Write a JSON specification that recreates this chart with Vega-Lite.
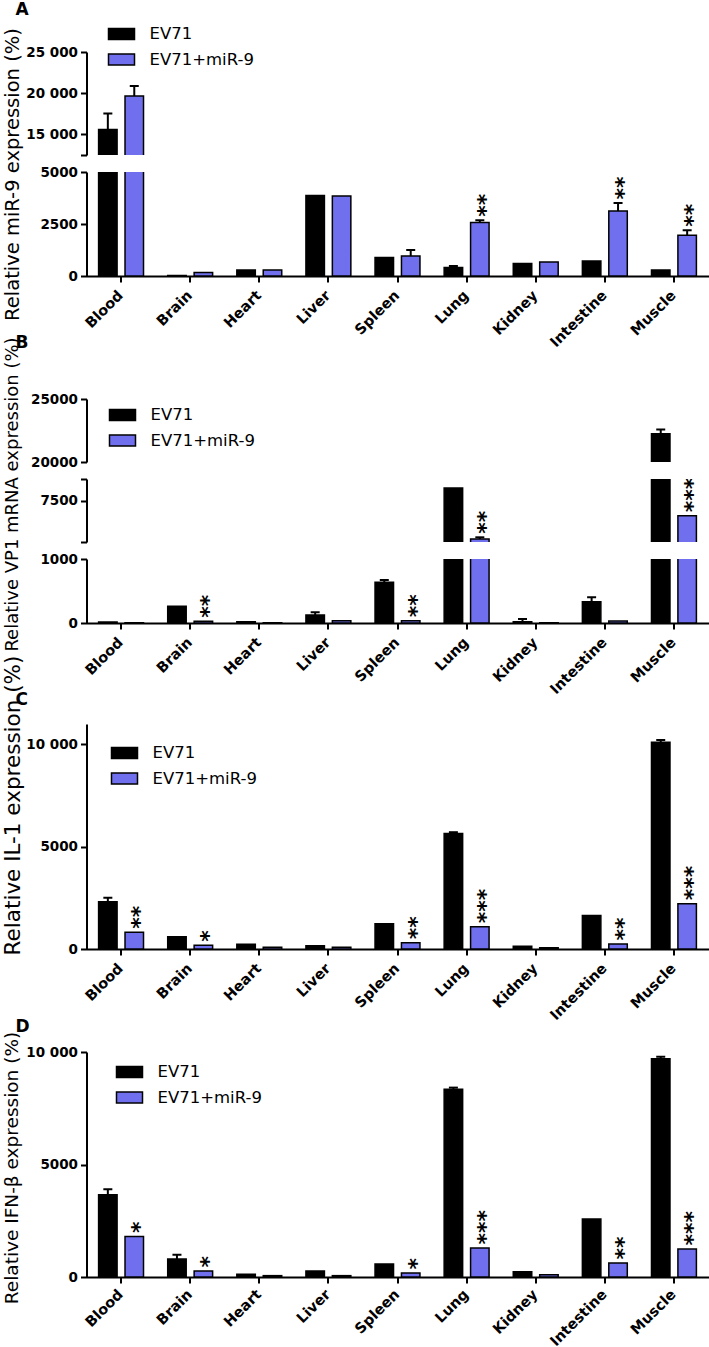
{
"$schema": "https://vega.github.io/schema/vega-lite/v6.json",
"padding": {"left": 1.5, "top": 1, "right": 0, "bottom": 0},
"bounds": "flush",
"spacing": 17,
"resolve": {"scale": {"color": "independent", "y": "independent", "x": "independent"}, "legend": {"color": "independent"}},
"datasets": {
"A": [
{"tissue":"Blood","group":"EV71","mean":15600,"upper":17550,"sig":""},
{"tissue":"Blood","group":"EV71+miR-9","mean":19650,"upper":20870,"sig":""},
{"tissue":"Brain","group":"EV71","mean":30,"upper":30,"sig":""},
{"tissue":"Brain","group":"EV71+miR-9","mean":165,"upper":165,"sig":""},
{"tissue":"Heart","group":"EV71","mean":290,"upper":290,"sig":""},
{"tissue":"Heart","group":"EV71+miR-9","mean":290,"upper":290,"sig":""},
{"tissue":"Liver","group":"EV71","mean":3875,"upper":3875,"sig":""},
{"tissue":"Liver","group":"EV71+miR-9","mean":3845,"upper":3845,"sig":""},
{"tissue":"Spleen","group":"EV71","mean":887,"upper":887,"sig":""},
{"tissue":"Spleen","group":"EV71+miR-9","mean":964,"upper":1253,"sig":""},
{"tissue":"Lung","group":"EV71","mean":405,"upper":482,"sig":""},
{"tissue":"Lung","group":"EV71+miR-9","mean":2574,"upper":2685,"sig":"**"},
{"tissue":"Kidney","group":"EV71","mean":598,"upper":598,"sig":""},
{"tissue":"Kidney","group":"EV71+miR-9","mean":675,"upper":675,"sig":""},
{"tissue":"Intestine","group":"EV71","mean":723,"upper":723,"sig":""},
{"tissue":"Intestine","group":"EV71+miR-9","mean":3120,"upper":3505,"sig":"**"},
{"tissue":"Muscle","group":"EV71","mean":290,"upper":290,"sig":""},
{"tissue":"Muscle","group":"EV71+miR-9","mean":1960,"upper":2200,"sig":"**"}
],
"B": [
{"tissue":"Blood","group":"EV71","mean":15,"upper":15,"sig":""},
{"tissue":"Blood","group":"EV71+miR-9","mean":3,"upper":3,"sig":""},
{"tissue":"Brain","group":"EV71","mean":260,"upper":260,"sig":""},
{"tissue":"Brain","group":"EV71+miR-9","mean":27,"upper":27,"sig":"**"},
{"tissue":"Heart","group":"EV71","mean":20,"upper":20,"sig":""},
{"tissue":"Heart","group":"EV71+miR-9","mean":2,"upper":2,"sig":""},
{"tissue":"Liver","group":"EV71","mean":125,"upper":167,"sig":""},
{"tissue":"Liver","group":"EV71+miR-9","mean":36,"upper":36,"sig":""},
{"tissue":"Spleen","group":"EV71","mean":635,"upper":672,"sig":""},
{"tissue":"Spleen","group":"EV71+miR-9","mean":36,"upper":36,"sig":"**"},
{"tissue":"Lung","group":"EV71","mean":8257,"upper":8257,"sig":""},
{"tissue":"Lung","group":"EV71+miR-9","mean":5180,"upper":5283,"sig":"**"},
{"tissue":"Kidney","group":"EV71","mean":20,"upper":62,"sig":""},
{"tissue":"Kidney","group":"EV71+miR-9","mean":2,"upper":2,"sig":""},
{"tissue":"Intestine","group":"EV71","mean":333,"upper":401,"sig":""},
{"tissue":"Intestine","group":"EV71+miR-9","mean":31,"upper":31,"sig":""},
{"tissue":"Muscle","group":"EV71","mean":22234,"upper":22580,"sig":""},
{"tissue":"Muscle","group":"EV71+miR-9","mean":6586,"upper":6586,"sig":"***"}
],
"C": [
{"tissue":"Blood","group":"EV71","mean":2314,"upper":2510,"sig":""},
{"tissue":"Blood","group":"EV71+miR-9","mean":824,"upper":824,"sig":"**"},
{"tissue":"Brain","group":"EV71","mean":598,"upper":598,"sig":""},
{"tissue":"Brain","group":"EV71+miR-9","mean":186,"upper":186,"sig":"*"},
{"tissue":"Heart","group":"EV71","mean":235,"upper":235,"sig":""},
{"tissue":"Heart","group":"EV71+miR-9","mean":88,"upper":88,"sig":""},
{"tissue":"Liver","group":"EV71","mean":160,"upper":160,"sig":""},
{"tissue":"Liver","group":"EV71+miR-9","mean":88,"upper":88,"sig":""},
{"tissue":"Spleen","group":"EV71","mean":1235,"upper":1235,"sig":""},
{"tissue":"Spleen","group":"EV71+miR-9","mean":304,"upper":304,"sig":"**"},
{"tissue":"Lung","group":"EV71","mean":5647,"upper":5710,"sig":""},
{"tissue":"Lung","group":"EV71+miR-9","mean":1088,"upper":1088,"sig":"***"},
{"tissue":"Kidney","group":"EV71","mean":135,"upper":135,"sig":""},
{"tissue":"Kidney","group":"EV71+miR-9","mean":65,"upper":65,"sig":""},
{"tissue":"Intestine","group":"EV71","mean":1642,"upper":1642,"sig":""},
{"tissue":"Intestine","group":"EV71+miR-9","mean":240,"upper":240,"sig":"**"},
{"tissue":"Muscle","group":"EV71","mean":10108,"upper":10220,"sig":""},
{"tissue":"Muscle","group":"EV71+miR-9","mean":2215,"upper":2215,"sig":"***"}
],
"D": [
{"tissue":"Blood","group":"EV71","mean":3652,"upper":3905,"sig":""},
{"tissue":"Blood","group":"EV71+miR-9","mean":1805,"upper":1805,"sig":"*"},
{"tissue":"Brain","group":"EV71","mean":799,"upper":990,"sig":""},
{"tissue":"Brain","group":"EV71+miR-9","mean":266,"upper":266,"sig":"*"},
{"tissue":"Heart","group":"EV71","mean":118,"upper":118,"sig":""},
{"tissue":"Heart","group":"EV71+miR-9","mean":60,"upper":60,"sig":""},
{"tissue":"Liver","group":"EV71","mean":266,"upper":266,"sig":""},
{"tissue":"Liver","group":"EV71+miR-9","mean":60,"upper":60,"sig":""},
{"tissue":"Spleen","group":"EV71","mean":577,"upper":577,"sig":""},
{"tissue":"Spleen","group":"EV71+miR-9","mean":177,"upper":177,"sig":"*"},
{"tissue":"Lung","group":"EV71","mean":8342,"upper":8417,"sig":""},
{"tissue":"Lung","group":"EV71+miR-9","mean":1287,"upper":1287,"sig":"***"},
{"tissue":"Kidney","group":"EV71","mean":237,"upper":237,"sig":""},
{"tissue":"Kidney","group":"EV71+miR-9","mean":100,"upper":100,"sig":""},
{"tissue":"Intestine","group":"EV71","mean":2573,"upper":2573,"sig":""},
{"tissue":"Intestine","group":"EV71+miR-9","mean":621,"upper":621,"sig":"**"},
{"tissue":"Muscle","group":"EV71","mean":9704,"upper":9793,"sig":""},
{"tissue":"Muscle","group":"EV71+miR-9","mean":1242,"upper":1242,"sig":"***"}
]
},
"vconcat": [
{
"width": 622, "height": 103,
"title": {"text": "A", "anchor": "start", "frame": "group", "dx": -71, "offset": 13, "fontSize": 17, "font": "DejaVu Sans", "fontWeight": "bold", "baseline": "alphabetic", "color": "black"},
"data": {"name": "A"},
"encoding": {
"x": {"field":"tissue","type":"nominal","title":null,"scale":{"domain":["Blood","Brain","Heart","Liver","Spleen","Lung","Kidney","Intestine","Muscle"],"paddingInner":0.35,"paddingOuter":0.175},"axis":null},
"xOffset": {"field":"group","type":"nominal","scale":{"domain":["EV71","EV71+miR-9"],"paddingInner":0.3,"paddingOuter":0}}
},
"layer": [
{"mark":{"type":"bar","clip":true,"stroke":"black","strokeWidth":1.5},"encoding":{"y":{"field":"mean","type":"quantitative","scale":{"domain":[12500,25000],"nice":false,"zero":false},"axis":{"title":null,"values":[12500,15000,20000,25000],"labelExpr":"datum.value == 12500 ? '' : replace(format(datum.value, ','), ',', ' ')"}},"color":{"field":"group","type":"nominal","scale":{"domain":["EV71","EV71+miR-9"],"range":["#000000","#7070ee"]},"legend":null}}},
{"transform":[{"filter":"datum.upper > datum.mean"}],"mark":{"type":"rule","clip":true,"color":"black","strokeWidth":2},"encoding":{"y":{"field":"mean","type":"quantitative","scale":{"domain":[12500,25000],"nice":false,"zero":false},"axis":{"title":null,"values":[12500,15000,20000,25000],"labelExpr":"datum.value == 12500 ? '' : replace(format(datum.value, ','), ',', ' ')"}},"y2":{"field":"upper"}}},
{"transform":[{"filter":"datum.upper > datum.mean"}],"mark":{"type":"tick","clip":true,"color":"black","opacity":1,"size":9,"thickness":2},"encoding":{"y":{"field":"upper","type":"quantitative","scale":{"domain":[12500,25000],"nice":false,"zero":false},"axis":{"title":null,"values":[12500,15000,20000,25000],"labelExpr":"datum.value == 12500 ? '' : replace(format(datum.value, ','), ',', ' ')"}}}}
]
},
{
"width": 622, "height": 104,
"data": {"name": "A"},
"encoding": {
"x": {"field":"tissue","type":"nominal","title":null,"scale":{"domain":["Blood","Brain","Heart","Liver","Spleen","Lung","Kidney","Intestine","Muscle"],"paddingInner":0.35,"paddingOuter":0.175},"axis":{"title":null,"labelAngle":-45,"labelAlign":"right","labelBaseline":"middle","labelFontSize":14.5,"labelPadding":11}},
"xOffset": {"field":"group","type":"nominal","scale":{"domain":["EV71","EV71+miR-9"],"paddingInner":0.3,"paddingOuter":0}}
},
"layer": [
{"mark":{"type":"bar","clip":true,"stroke":"black","strokeWidth":1.5},"encoding":{"y":{"field":"mean","type":"quantitative","scale":{"domain":[0,5000],"nice":false,"zero":false},"axis":{"values":[0,2500,5000],"labelExpr":"format(datum.value, 'd')","title":"Relative miR-9 expression (%)","titleFontSize":19.5,"titleX":-68,"titleY":2,"titleAlign":"center","titleAngle":-90,"titleBaseline":"alphabetic"}},"color":{"field":"group","type":"nominal","scale":{"domain":["EV71","EV71+miR-9"],"range":["#000000","#7070ee"]},"legend":{"title":null,"orient":"none","legendX":21,"legendY":-152}}}},
{"transform":[{"filter":"datum.upper > datum.mean"}],"mark":{"type":"rule","clip":true,"color":"black","strokeWidth":2},"encoding":{"y":{"field":"mean","type":"quantitative","scale":{"domain":[0,5000],"nice":false,"zero":false},"axis":{"values":[0,2500,5000],"labelExpr":"format(datum.value, 'd')","title":"Relative miR-9 expression (%)","titleFontSize":19.5,"titleX":-68,"titleY":2,"titleAlign":"center","titleAngle":-90,"titleBaseline":"alphabetic"}},"y2":{"field":"upper"}}},
{"transform":[{"filter":"datum.upper > datum.mean"}],"mark":{"type":"tick","clip":true,"color":"black","opacity":1,"size":9,"thickness":2},"encoding":{"y":{"field":"upper","type":"quantitative","scale":{"domain":[0,5000],"nice":false,"zero":false},"axis":{"values":[0,2500,5000],"labelExpr":"format(datum.value, 'd')","title":"Relative miR-9 expression (%)","titleFontSize":19.5,"titleX":-68,"titleY":2,"titleAlign":"center","titleAngle":-90,"titleBaseline":"alphabetic"}}}},
{"transform":[{"filter":"datum.sig != ''"}],"mark":{"type":"text","clip":true,"angle":270,"align":"left","baseline":"middle","dx":3.5,"dy":6,"fontSize":22,"font":"DejaVu Sans","fontWeight":"bold","color":"black"},"encoding":{"text":{"field":"sig","type":"nominal"},"y":{"field":"upper","type":"quantitative","scale":{"domain":[0,5000],"nice":false,"zero":false},"axis":{"values":[0,2500,5000],"labelExpr":"format(datum.value, 'd')","title":"Relative miR-9 expression (%)","titleFontSize":19.5,"titleX":-68,"titleY":2,"titleAlign":"center","titleAngle":-90,"titleBaseline":"alphabetic"}}}}
]
},
{
"width": 622, "height": 169,
"title": {"text": "B", "anchor": "start", "frame": "group", "dx": -71, "offset": -72, "fontSize": 17, "font": "DejaVu Sans", "fontWeight": "bold", "baseline": "alphabetic", "color": "black"},
"data": {"name": "B"},
"encoding": {
"x": {"field":"tissue","type":"nominal","title":null,"scale":{"domain":["Blood","Brain","Heart","Liver","Spleen","Lung","Kidney","Intestine","Muscle"],"paddingInner":0.35,"paddingOuter":0.175},"axis":null},
"xOffset": {"field":"group","type":"nominal","scale":{"domain":["EV71","EV71+miR-9"],"paddingInner":0.3,"paddingOuter":0}}
},
"layer": [
{"mark":{"type":"bar","clip":true,"stroke":"black","strokeWidth":1.5},"encoding":{"y":{"field":"mean","type":"quantitative","scale":{"domain":[20000,25000],"range":[169,106],"nice":false,"zero":false},"axis":{"title":null,"values":[20000,25000],"labelExpr":"format(datum.value, 'd')"}},"color":{"field":"group","type":"nominal","scale":{"domain":["EV71","EV71+miR-9"],"range":["#000000","#7070ee"]},"legend":{"title":null,"orient":"none","legendX":22,"legendY":108}}}},
{"transform":[{"filter":"datum.upper > datum.mean"}],"mark":{"type":"rule","clip":true,"color":"black","strokeWidth":2},"encoding":{"y":{"field":"mean","type":"quantitative","scale":{"domain":[20000,25000],"range":[169,106],"nice":false,"zero":false},"axis":{"title":null,"values":[20000,25000],"labelExpr":"format(datum.value, 'd')"}},"y2":{"field":"upper"}}},
{"transform":[{"filter":"datum.upper > datum.mean"}],"mark":{"type":"tick","clip":true,"color":"black","opacity":1,"size":9,"thickness":2},"encoding":{"y":{"field":"upper","type":"quantitative","scale":{"domain":[20000,25000],"range":[169,106],"nice":false,"zero":false},"axis":{"title":null,"values":[20000,25000],"labelExpr":"format(datum.value, 'd')"}}}}
]
},
{
"width": 622, "height": 63,
"data": {"name": "B"},
"encoding": {
"x": {"field":"tissue","type":"nominal","title":null,"scale":{"domain":["Blood","Brain","Heart","Liver","Spleen","Lung","Kidney","Intestine","Muscle"],"paddingInner":0.35,"paddingOuter":0.175},"axis":null},
"xOffset": {"field":"group","type":"nominal","scale":{"domain":["EV71","EV71+miR-9"],"paddingInner":0.3,"paddingOuter":0}}
},
"layer": [
{"mark":{"type":"bar","clip":true,"stroke":"black","strokeWidth":1.5},"encoding":{"y":{"field":"mean","type":"quantitative","scale":{"domain":[5000,8800],"nice":false,"zero":false},"axis":{"values":[5000,7500,8800],"labelExpr":"datum.value == 7500 ? '7500' : ''","title":"Relative VP1 mRNA expression (%)","titleFontSize":18,"titleX":-69,"titleY":15,"titleAlign":"center","titleAngle":-90,"titleBaseline":"alphabetic"}},"color":{"field":"group","type":"nominal","scale":{"domain":["EV71","EV71+miR-9"],"range":["#000000","#7070ee"]},"legend":null}}},
{"transform":[{"filter":"datum.upper > datum.mean"}],"mark":{"type":"rule","clip":true,"color":"black","strokeWidth":2},"encoding":{"y":{"field":"mean","type":"quantitative","scale":{"domain":[5000,8800],"nice":false,"zero":false},"axis":{"values":[5000,7500,8800],"labelExpr":"datum.value == 7500 ? '7500' : ''","title":"Relative VP1 mRNA expression (%)","titleFontSize":18,"titleX":-69,"titleY":15,"titleAlign":"center","titleAngle":-90,"titleBaseline":"alphabetic"}},"y2":{"field":"upper"}}},
{"transform":[{"filter":"datum.upper > datum.mean"}],"mark":{"type":"tick","clip":true,"color":"black","opacity":1,"size":9,"thickness":2},"encoding":{"y":{"field":"upper","type":"quantitative","scale":{"domain":[5000,8800],"nice":false,"zero":false},"axis":{"values":[5000,7500,8800],"labelExpr":"datum.value == 7500 ? '7500' : ''","title":"Relative VP1 mRNA expression (%)","titleFontSize":18,"titleX":-69,"titleY":15,"titleAlign":"center","titleAngle":-90,"titleBaseline":"alphabetic"}}}},
{"transform":[{"filter":"datum.sig != ''"}],"mark":{"type":"text","clip":true,"angle":270,"align":"left","baseline":"middle","dx":3.5,"dy":6,"fontSize":22,"font":"DejaVu Sans","fontWeight":"bold","color":"black"},"encoding":{"text":{"field":"sig","type":"nominal"},"y":{"field":"upper","type":"quantitative","scale":{"domain":[5000,8800],"nice":false,"zero":false},"axis":{"values":[5000,7500,8800],"labelExpr":"datum.value == 7500 ? '7500' : ''","title":"Relative VP1 mRNA expression (%)","titleFontSize":18,"titleX":-69,"titleY":15,"titleAlign":"center","titleAngle":-90,"titleBaseline":"alphabetic"}}}}
]
},
{
"width": 622, "height": 64,
"data": {"name": "B"},
"encoding": {
"x": {"field":"tissue","type":"nominal","title":null,"scale":{"domain":["Blood","Brain","Heart","Liver","Spleen","Lung","Kidney","Intestine","Muscle"],"paddingInner":0.35,"paddingOuter":0.175},"axis":{"title":null,"labelAngle":-45,"labelAlign":"right","labelBaseline":"middle","labelFontSize":14.5,"labelPadding":11}},
"xOffset": {"field":"group","type":"nominal","scale":{"domain":["EV71","EV71+miR-9"],"paddingInner":0.3,"paddingOuter":0}}
},
"layer": [
{"mark":{"type":"bar","clip":true,"stroke":"black","strokeWidth":1.5},"encoding":{"y":{"field":"mean","type":"quantitative","scale":{"domain":[0,1000],"nice":false,"zero":false},"axis":{"title":null,"values":[0,1000],"labelExpr":"format(datum.value, 'd')"}},"color":{"field":"group","type":"nominal","scale":{"domain":["EV71","EV71+miR-9"],"range":["#000000","#7070ee"]},"legend":null}}},
{"transform":[{"filter":"datum.upper > datum.mean"}],"mark":{"type":"rule","clip":true,"color":"black","strokeWidth":2},"encoding":{"y":{"field":"mean","type":"quantitative","scale":{"domain":[0,1000],"nice":false,"zero":false},"axis":{"title":null,"values":[0,1000],"labelExpr":"format(datum.value, 'd')"}},"y2":{"field":"upper"}}},
{"transform":[{"filter":"datum.upper > datum.mean"}],"mark":{"type":"tick","clip":true,"color":"black","opacity":1,"size":9,"thickness":2},"encoding":{"y":{"field":"upper","type":"quantitative","scale":{"domain":[0,1000],"nice":false,"zero":false},"axis":{"title":null,"values":[0,1000],"labelExpr":"format(datum.value, 'd')"}}}},
{"transform":[{"filter":"datum.sig != ''"}],"mark":{"type":"text","clip":true,"angle":270,"align":"left","baseline":"middle","dx":3.5,"dy":6,"fontSize":22,"font":"DejaVu Sans","fontWeight":"bold","color":"black"},"encoding":{"text":{"field":"sig","type":"nominal"},"y":{"field":"upper","type":"quantitative","scale":{"domain":[0,1000],"nice":false,"zero":false},"axis":{"title":null,"values":[0,1000],"labelExpr":"format(datum.value, 'd')"}}}}
]
},
{
"width": 622, "height": 309,
"title": {"text": "C", "anchor": "start", "frame": "group", "dx": -71, "offset": -82, "fontSize": 17, "font": "DejaVu Sans", "fontWeight": "bold", "baseline": "alphabetic", "color": "black"},
"data": {"name": "C"},
"encoding": {
"x": {"field":"tissue","type":"nominal","title":null,"scale":{"domain":["Blood","Brain","Heart","Liver","Spleen","Lung","Kidney","Intestine","Muscle"],"paddingInner":0.35,"paddingOuter":0.175},"axis":{"title":null,"labelAngle":-45,"labelAlign":"right","labelBaseline":"middle","labelFontSize":14.5,"labelPadding":11}},
"xOffset": {"field":"group","type":"nominal","scale":{"domain":["EV71","EV71+miR-9"],"paddingInner":0.3,"paddingOuter":0}}
},
"layer": [
{"mark":{"type":"bar","clip":true,"stroke":"black","strokeWidth":1.5},"encoding":{"y":{"field":"mean","type":"quantitative","scale":{"domain":[0,11000],"range":[309,84],"nice":false,"zero":false},"axis":{"values":[0,5000,10000],"labelExpr":"datum.value >= 10000 ? replace(format(datum.value, ','), ',', ' ') : format(datum.value, 'd')","title":"Relative IL-1 expression (%)","titleFontSize":21.5,"titleX":-67.5,"titleY":165,"titleAlign":"center","titleAngle":-90,"titleBaseline":"alphabetic"}},"color":{"field":"group","type":"nominal","scale":{"domain":["EV71","EV71+miR-9"],"range":["#000000","#7070ee"]},"legend":{"title":null,"orient":"none","legendX":24,"legendY":99}}}},
{"transform":[{"filter":"datum.upper > datum.mean"}],"mark":{"type":"rule","clip":true,"color":"black","strokeWidth":2},"encoding":{"y":{"field":"mean","type":"quantitative","scale":{"domain":[0,11000],"range":[309,84],"nice":false,"zero":false},"axis":{"values":[0,5000,10000],"labelExpr":"datum.value >= 10000 ? replace(format(datum.value, ','), ',', ' ') : format(datum.value, 'd')","title":"Relative IL-1 expression (%)","titleFontSize":21.5,"titleX":-67.5,"titleY":165,"titleAlign":"center","titleAngle":-90,"titleBaseline":"alphabetic"}},"y2":{"field":"upper"}}},
{"transform":[{"filter":"datum.upper > datum.mean"}],"mark":{"type":"tick","clip":true,"color":"black","opacity":1,"size":9,"thickness":2},"encoding":{"y":{"field":"upper","type":"quantitative","scale":{"domain":[0,11000],"range":[309,84],"nice":false,"zero":false},"axis":{"values":[0,5000,10000],"labelExpr":"datum.value >= 10000 ? replace(format(datum.value, ','), ',', ' ') : format(datum.value, 'd')","title":"Relative IL-1 expression (%)","titleFontSize":21.5,"titleX":-67.5,"titleY":165,"titleAlign":"center","titleAngle":-90,"titleBaseline":"alphabetic"}}}},
{"transform":[{"filter":"datum.sig != ''"}],"mark":{"type":"text","clip":true,"angle":270,"align":"left","baseline":"middle","dx":3.5,"dy":6,"fontSize":22,"font":"DejaVu Sans","fontWeight":"bold","color":"black"},"encoding":{"text":{"field":"sig","type":"nominal"},"y":{"field":"upper","type":"quantitative","scale":{"domain":[0,11000],"range":[309,84],"nice":false,"zero":false},"axis":{"values":[0,5000,10000],"labelExpr":"datum.value >= 10000 ? replace(format(datum.value, ','), ',', ' ') : format(datum.value, 'd')","title":"Relative IL-1 expression (%)","titleFontSize":21.5,"titleX":-67.5,"titleY":165,"titleAlign":"center","titleAngle":-90,"titleBaseline":"alphabetic"}}}}
]
},
{
"width": 622, "height": 311,
"title": {"text": "D", "anchor": "start", "frame": "group", "dx": -71, "offset": -83, "fontSize": 17, "font": "DejaVu Sans", "fontWeight": "bold", "baseline": "alphabetic", "color": "black"},
"data": {"name": "D"},
"encoding": {
"x": {"field":"tissue","type":"nominal","title":null,"scale":{"domain":["Blood","Brain","Heart","Liver","Spleen","Lung","Kidney","Intestine","Muscle"],"paddingInner":0.35,"paddingOuter":0.175},"axis":{"title":null,"labelAngle":-45,"labelAlign":"right","labelBaseline":"middle","labelFontSize":14.5,"labelPadding":9}},
"xOffset": {"field":"group","type":"nominal","scale":{"domain":["EV71","EV71+miR-9"],"paddingInner":0.3,"paddingOuter":0}}
},
"layer": [
{"mark":{"type":"bar","clip":true,"stroke":"black","strokeWidth":1.5},"encoding":{"y":{"field":"mean","type":"quantitative","scale":{"domain":[0,10000],"range":[311,86],"nice":false,"zero":false},"axis":{"values":[0,5000,10000],"labelExpr":"datum.value >= 10000 ? replace(format(datum.value, ','), ',', ' ') : format(datum.value, 'd')","title":"Relative IFN-β expression (%)","titleFontSize":18.5,"titleX":-69,"titleY":201.5,"titleAlign":"center","titleAngle":-90,"titleBaseline":"alphabetic"}},"color":{"field":"group","type":"nominal","scale":{"domain":["EV71","EV71+miR-9"],"range":["#000000","#7070ee"]},"legend":{"title":null,"orient":"none","legendX":29,"legendY":92}}}},
{"transform":[{"filter":"datum.upper > datum.mean"}],"mark":{"type":"rule","clip":true,"color":"black","strokeWidth":2},"encoding":{"y":{"field":"mean","type":"quantitative","scale":{"domain":[0,10000],"range":[311,86],"nice":false,"zero":false},"axis":{"values":[0,5000,10000],"labelExpr":"datum.value >= 10000 ? replace(format(datum.value, ','), ',', ' ') : format(datum.value, 'd')","title":"Relative IFN-β expression (%)","titleFontSize":18.5,"titleX":-69,"titleY":201.5,"titleAlign":"center","titleAngle":-90,"titleBaseline":"alphabetic"}},"y2":{"field":"upper"}}},
{"transform":[{"filter":"datum.upper > datum.mean"}],"mark":{"type":"tick","clip":true,"color":"black","opacity":1,"size":9,"thickness":2},"encoding":{"y":{"field":"upper","type":"quantitative","scale":{"domain":[0,10000],"range":[311,86],"nice":false,"zero":false},"axis":{"values":[0,5000,10000],"labelExpr":"datum.value >= 10000 ? replace(format(datum.value, ','), ',', ' ') : format(datum.value, 'd')","title":"Relative IFN-β expression (%)","titleFontSize":18.5,"titleX":-69,"titleY":201.5,"titleAlign":"center","titleAngle":-90,"titleBaseline":"alphabetic"}}}},
{"transform":[{"filter":"datum.sig != ''"}],"mark":{"type":"text","clip":true,"angle":270,"align":"left","baseline":"middle","dx":3.5,"dy":6,"fontSize":22,"font":"DejaVu Sans","fontWeight":"bold","color":"black"},"encoding":{"text":{"field":"sig","type":"nominal"},"y":{"field":"upper","type":"quantitative","scale":{"domain":[0,10000],"range":[311,86],"nice":false,"zero":false},"axis":{"values":[0,5000,10000],"labelExpr":"datum.value >= 10000 ? replace(format(datum.value, ','), ',', ' ') : format(datum.value, 'd')","title":"Relative IFN-β expression (%)","titleFontSize":18.5,"titleX":-69,"titleY":201.5,"titleAlign":"center","titleAngle":-90,"titleBaseline":"alphabetic"}}}}
]
}
],
"config": {
"view": {"stroke": null},
"background": "white",
"font": "DejaVu Sans",
"axis": {"grid": false, "domainColor": "black", "domainWidth": 2, "tickColor": "black", "tickWidth": 2, "tickSize": 6, "labelColor": "black", "labelFont": "DejaVu Sans", "labelFontWeight": "bold", "labelFontSize": 13.5, "labelPadding": 3, "labelOverlap": false, "titleColor": "black", "titleFont": "DejaVu Sans", "titleFontWeight": "normal"},
"legend": {"symbolType": "M-1,-0.42H1V0.42H-1Z", "symbolSize": 676, "symbolStrokeColor": "black", "symbolStrokeWidth": 1.5, "symbolOpacity": 1, "labelFont": "DejaVu Sans", "labelFontSize": 16.5, "labelColor": "black", "labelOffset": 14, "rowPadding": 2.5, "padding": 0}
}
}
